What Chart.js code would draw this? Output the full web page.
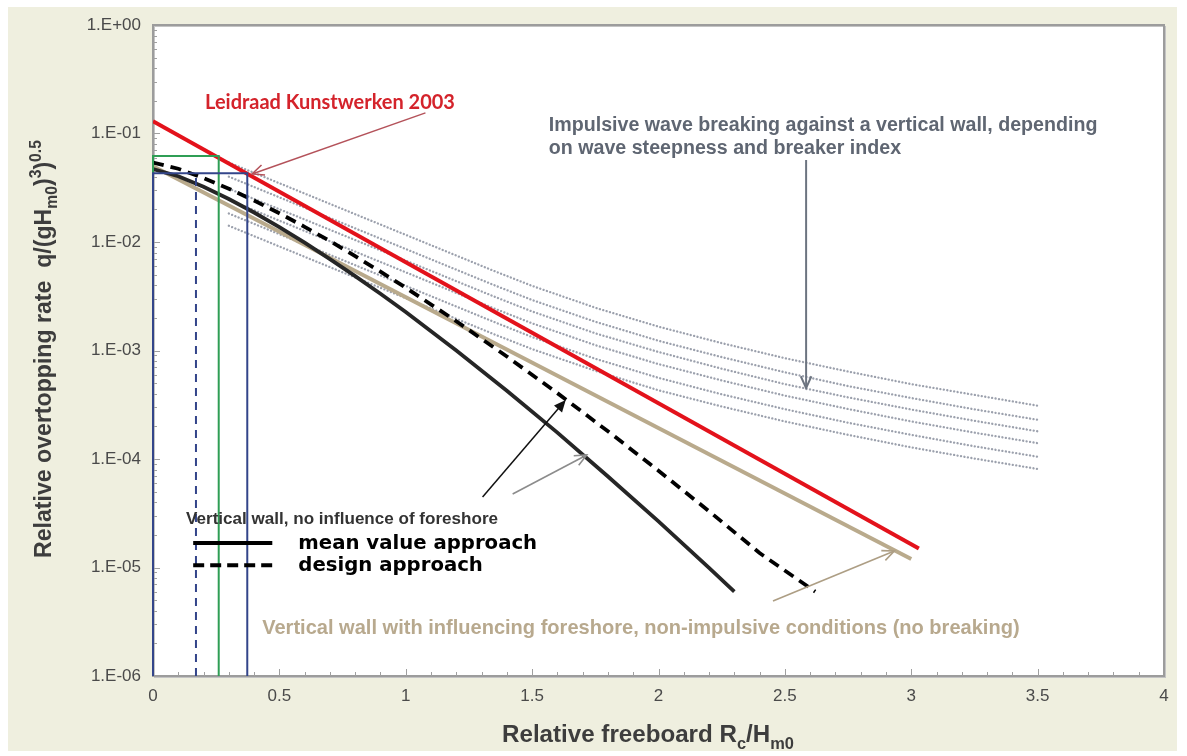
<!DOCTYPE html>
<html><head><meta charset="utf-8">
<script src="https://cdn.jsdelivr.net/npm/chart.js@4.4.1/dist/chart.umd.min.js"></script>
<style>
html,body{margin:0;padding:0;background:#fff;}
#wrap{width:1187px;height:756px;position:relative;}
</style></head><body>
<div id="wrap"><canvas id="c"></canvas></div>
<script>
// x = relative freeboard Rc/Hm0, q = relative overtopping rate q/(gHm0^3)^0.5
const meanX = [0,0.1,0.2,0.3,0.4,0.5,0.6,0.7,0.8,0.9,1.0,1.2,1.4,1.6,1.8,2.0,2.2,2.3];
const meanQ = [0.047,0.0404,0.0323,0.0249,0.0187,0.0137,0.00985,0.00696,0.00485,0.00333,0.00226,0.00100,4.26e-4,1.75e-4,6.9e-5,2.66e-5,9.9e-6,6.0e-6];
const designX = [0,0.1,0.2,0.3,0.4,0.5,0.6,0.7,0.8,0.9,1.0,1.2,1.4,1.6,1.8,2.0,2.2,2.4,2.62];
const designQ = [0.054,0.0473,0.0389,0.031,0.0241,0.0184,0.0138,0.0102,0.0074,0.00533,0.00379,0.00186,8.8e-4,4.05e-4,1.8e-4,7.8e-5,3.3e-5,1.36e-5,6.0e-6];
const leidraadX = [0,3.03];
const leidraadQ = [0.13,1.5e-5];
const foreshoreX = [0,3.0];
const foreshoreQ = [0.05,1.2e-5];
const impulsiveX = [0.3,1.35,1.5,1.75,2.0,2.25,2.5,2.75,3.0,3.25,3.5];
const impulsiveQ = [
  [0.054,5.4e-3,3.94e-3,2.48e-3,1.66e-3,1.17e-3,8.5e-4,6.4e-4,4.9e-4,3.9e-4,3.1e-4],
  [0.040,4.0e-3,2.92e-3,1.84e-3,1.23e-3,8.7e-4,6.3e-4,4.7e-4,3.65e-4,2.87e-4,2.3e-4],
  [0.031,3.14e-3,2.29e-3,1.44e-3,9.7e-4,6.8e-4,4.9e-4,3.7e-4,2.86e-4,2.25e-4,1.8e-4],
  [0.0244,2.44e-3,1.78e-3,1.12e-3,7.5e-4,5.3e-4,3.84e-4,2.89e-4,2.22e-4,1.75e-4,1.4e-4],
  [0.0183,1.83e-3,1.33e-3,8.4e-4,5.6e-4,3.95e-4,2.88e-4,2.16e-4,1.67e-4,1.31e-4,1.05e-4],
  [0.0141,1.41e-3,1.03e-3,6.5e-4,4.3e-4,3.05e-4,2.22e-4,1.67e-4,1.28e-4,1.01e-4,8.1e-5]
];
const greenBoxX = [0,0,0.26,0.26];
const greenBoxQ = [1e-6,0.062,0.062,1e-6];
const blueBoxX = [0,0,0.373,0.373];
const blueBoxQ = [1e-6,0.043,0.043,1e-6];
const blueDashX = [0.17,0.17];
const blueDashQ = [1e-6,0.043];
const yTicks = [1e-6,1e-5,1e-4,1e-3,1e-2,1e-1,1];

// annotation anchors in data units [x, q]
const redArrow = [[1.078,0.155],[0.392,0.0424]];
const greyArrow = [[2.584,0.057],[2.584,4.5e-4]];
const blackArrow = [[1.304,4.47e-5],[1.633,3.5e-4]];
const meanArrow = [[1.423,4.75e-5],[1.716,1.09e-4]];
const tanArrow = [[2.453,4.9e-6],[2.933,1.42e-5]];
const legendSolid = [[0.159,1.68e-5],[0.472,1.68e-5]];
const legendDash = [[0.159,1.05e-5],[0.472,1.05e-5]];

const pts = (xs, ys) => xs.map((x,i)=>({x:x, y:ys[i]}));

const datasets = [];
impulsiveQ.forEach(q=>{
  datasets.push({data:pts(impulsiveX,q), borderColor:'#9ca1ad', borderWidth:2.3, borderDash:[0.1,3.4], borderCapStyle:'round', order:9});
});
datasets.push({data:pts(foreshoreX,foreshoreQ), borderColor:'#b9aa8c', borderWidth:4, order:7});
datasets.push({data:pts(leidraadX,leidraadQ), borderColor:'#e3121b', borderWidth:4, order:6});
datasets.push({data:pts(meanX,meanQ), borderColor:'#262626', borderWidth:3.8, order:5});
datasets.push({data:pts(designX,designQ), borderColor:'#000', borderWidth:3.8, borderDash:[11,7], order:4});
datasets.push({data:pts(greenBoxX,greenBoxQ), borderColor:'#2f9e55', borderWidth:2, clip:4, order:2});
datasets.push({data:pts(blueBoxX,blueBoxQ), borderColor:'#33458a', borderWidth:2, clip:4, order:1});
datasets.push({data:pts(blueDashX,blueDashQ), borderColor:'#33458a', borderWidth:2, borderDash:[8,6], clip:4, order:3});

function arrow(ctx, a, b, color, w, filled){
  const ang = Math.atan2(b[1]-a[1], b[0]-a[0]);
  const L = 13, sp = 0.42;
  ctx.save();
  ctx.strokeStyle = color; ctx.fillStyle = color; ctx.lineWidth = w;
  ctx.beginPath(); ctx.moveTo(a[0],a[1]); ctx.lineTo(b[0]-(filled?8:0)*Math.cos(ang), b[1]-(filled?8:0)*Math.sin(ang)); ctx.stroke();
  ctx.beginPath();
  ctx.moveTo(b[0]-L*Math.cos(ang-sp), b[1]-L*Math.sin(ang-sp));
  ctx.lineTo(b[0], b[1]);
  ctx.lineTo(b[0]-L*Math.cos(ang+sp), b[1]-L*Math.sin(ang+sp));
  if(filled){ ctx.closePath(); ctx.fill(); } else { ctx.stroke(); }
  ctx.restore();
}

function fitText(ctx, text, x, y, weight, family, width, color){
  ctx.font = weight + ' 20px ' + family;
  const size = 20 * width / ctx.measureText(text).width;
  ctx.font = weight + ' ' + size.toFixed(2) + 'px ' + family;
  ctx.fillStyle = color;
  ctx.textAlign = 'left'; ctx.textBaseline = 'alphabetic';
  ctx.fillText(text, x, y);
  return size;
}

// segments: [text, 0 normal | 1 subscript | 2 superscript], centred on x, scaled to total width
function richText(ctx, segs, x, y, width, color){
  const fnt = s => 'bold ' + s.toFixed(2) + 'px "Liberation Sans", Arial, sans-serif';
  const measure = size => segs.reduce((w,[t,m]) => { ctx.font = fnt(m ? size*0.68 : size); return w + ctx.measureText(t).width; }, 0);
  const size = 20 * width / measure(20);
  let cx = x - width/2;
  ctx.fillStyle = color; ctx.textAlign = 'left'; ctx.textBaseline = 'alphabetic';
  segs.forEach(([t,m]) => {
    ctx.font = fnt(m ? size*0.68 : size);
    const dy = m === 1 ? size*0.28 : m === 2 ? -size*0.42 : 0;
    ctx.fillText(t, cx, y + dy);
    cx += ctx.measureText(t).width;
  });
}

const decor = {
  id:'decor',
  beforeDraw(ch){
    const ctx = ch.ctx, a = ch.chartArea;
    ctx.save();
    ctx.fillStyle = '#ffffff'; ctx.fillRect(0,0,ch.width,ch.height);
    ctx.fillStyle = '#efefdf'; ctx.fillRect(8,7,1169,744);
    ctx.fillStyle = '#ffffff'; ctx.fillRect(a.left,a.top,a.right-a.left,a.bottom-a.top);
    ctx.restore();
  },
  beforeDatasetsDraw(ch){
    const ctx = ch.ctx, a = ch.chartArea, xs = ch.scales.x, ys = ch.scales.y;
    ctx.save();
    ctx.strokeStyle = '#c4c4c4'; ctx.lineWidth = 1;
    ctx.strokeRect(a.left+1.5, a.top+1.5, a.right-a.left, a.bottom-a.top);
    ctx.strokeStyle = '#9c9c9c'; ctx.lineWidth = 2;
    ctx.strokeRect(a.left, a.top, a.right-a.left, a.bottom-a.top);
    // minor ticks
    ctx.strokeStyle = '#a0a0a0'; ctx.lineWidth = 1;
    ctx.beginPath();
    for(let e=-6;e<0;e++){
      for(let k=1;k<10;k++){
        const y = Math.round(ys.getPixelForValue(k*Math.pow(10,e)))+0.5;
        const len = k===1 ? 7 : 4;
        ctx.moveTo(a.left, y); ctx.lineTo(a.left+len, y);
      }
    }
    for(let i=1;i<40;i++){
      const x = Math.round(xs.getPixelForValue(i/10))+0.5;
      const len = i%5===0 ? 7 : 4;
      ctx.moveTo(x, a.bottom); ctx.lineTo(x, a.bottom-len);
    }
    ctx.stroke();
    ctx.restore();
  },
  afterDatasetsDraw(ch){
    const ctx = ch.ctx, xs = ch.scales.x, ys = ch.scales.y;
    const P = p => [xs.getPixelForValue(p[0]), ys.getPixelForValue(p[1])];
    ctx.save();
    // legend samples
    ctx.strokeStyle = '#000'; ctx.lineWidth = 4;
    let s = legendSolid.map(P);
    ctx.beginPath(); ctx.moveTo(s[0][0],s[0][1]); ctx.lineTo(s[1][0],s[1][1]); ctx.stroke();
    s = legendDash.map(P);
    ctx.setLineDash([11,6]);
    ctx.beginPath(); ctx.moveTo(s[0][0],s[0][1]); ctx.lineTo(s[1][0],s[1][1]); ctx.stroke();
    ctx.setLineDash([]);
    // arrows
    arrow(ctx, P(redArrow[0]), P(redArrow[1]), '#b4525a', 1.5, false);
    arrow(ctx, P(greyArrow[0]), P(greyArrow[1]), '#6c7480', 2, false);
    arrow(ctx, P(blackArrow[0]), P(blackArrow[1]), '#111', 1.5, true);
    arrow(ctx, P(meanArrow[0]), P(meanArrow[1]), '#8c8c8c', 1.6, false);
    arrow(ctx, P(tanArrow[0]), P(tanArrow[1]), '#ad9e84', 1.6, false);
    // texts
    let t = P([0.206,0.168]);
    fitText(ctx, 'Leidraad Kunstwerken 2003', t[0], t[1], 'bold', 'Lato, "Open Sans", sans-serif', 250, '#d4232b');
    t = P([1.566,0.1054]);
    fitText(ctx, 'Impulsive wave breaking against a vertical wall, depending', t[0], t[1], 'bold', '"Liberation Sans", Arial, sans-serif', 549, '#5f6672');
    t = P([1.566,0.0647]);
    ctx.fillText('on wave steepness and breaker index', t[0], t[1]);
    t = P([0.131,2.52e-5]);
    fitText(ctx, 'Vertical wall, no influence of foreshore', t[0], t[1], 'bold', '"Liberation Sans", Arial, sans-serif', 312, '#333');
    t = P([0.575,1.48e-5]);
    fitText(ctx, 'mean value approach', t[0], t[1], 'bold', '"DejaVu Sans", Verdana, sans-serif', 239, '#000');
    t = P([0.575,9.3e-6]);
    ctx.fillText('design approach', t[0], t[1]);
    t = P([0.432,2.44e-6]);
    fitText(ctx, 'Vertical wall with influencing foreshore, non-impulsive conditions (no breaking)', t[0], t[1], 'bold', '"Liberation Sans", Arial, sans-serif', 758, '#b8a98e');
    ctx.restore();
  },
  afterDraw(ch){
    const ctx = ch.ctx;
    ctx.save();
    richText(ctx, [['Relative freeboard R',0],['c',1],['/H',0],['m0',1]], 648, 742, 292, '#3d3d3d');
    ctx.translate(51, 349); ctx.rotate(-Math.PI/2);
    richText(ctx, [['Relative overtopping rate  q/(gH',0],['m0',1],[')',0],['3',2],[')',0],['0.5',2]], 0, 0, 418, '#3d3d3d');
    ctx.restore();
  }
};

new Chart(document.getElementById('c'), {
  type:'line',
  data:{datasets:datasets},
  options:{
    responsive:true, maintainAspectRatio:false, animation:false,
    elements:{point:{radius:0}, line:{tension:0}},
    layout:{padding:{top:25, right:23, left:0, bottom:0}},
    plugins:{legend:{display:false}, tooltip:{enabled:false}},
    scales:{
      x:{type:'linear', min:0, max:4,
        grid:{display:false, drawTicks:false}, border:{display:false},
        ticks:{stepSize:0.5, padding:10, color:'#4a4a4a', font:{family:'"Liberation Sans", Arial, sans-serif', size:17},
          callback:v=>String(v)},
        afterFit:s=>{ s.height = 80; }
      },
      y:{type:'logarithmic', min:1e-6, max:1,
        grid:{display:false, drawTicks:false}, border:{display:false},
        afterBuildTicks:s=>{ s.ticks = yTicks.map(v=>({value:v})); },
        ticks:{padding:12, color:'#4a4a4a', font:{family:'"Liberation Sans", Arial, sans-serif', size:17},
          callback:v=>{ const e = Math.round(Math.log10(v)); return '1.E' + (e>=0?'+':'-') + String(Math.abs(e)).padStart(2,'0'); }},
        afterFit:s=>{ s.width = 153; }
      }
    }
  },
  plugins:[decor]
});
</script>
</body></html>
